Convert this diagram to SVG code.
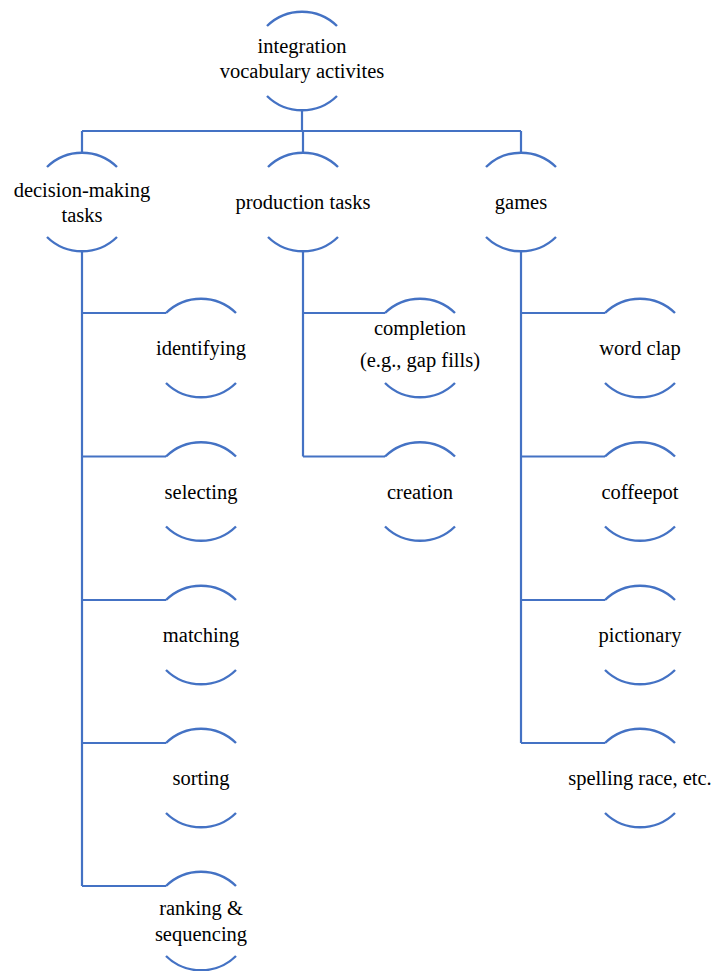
<svg xmlns="http://www.w3.org/2000/svg" xmlns:xlink="http://www.w3.org/1999/xlink" width="716" height="971" viewBox="0 0 716 971">
<defs>
<path id="arcs" d="M-35 -35 A50 50 0 0 1 35 -35 M-35 35 A50 50 0 0 0 35 35" fill="none" stroke="#4472C4" stroke-width="2.4"/>
</defs>
<rect width="716" height="971" fill="#ffffff"/>
<g id="connectors" fill="none" stroke="#4472C4" stroke-width="2.2">
<path d="M302 110 V131 M82 131 H521 M82 131 V152 M303 131 V152 M521 131 V152"/>
<path d="M82 252 V886 M82 313 H166 M82 456.5 H166 M82 600 H166 M82 743 H166 M82 886 H166"/>
<path d="M303 252 V456.5 M303 313 H385 M303 456.5 H385"/>
<path d="M521 252 V743 M521 313 H605 M521 456.5 H605 M521 600 H605 M521 743 H605"/>
</g>
<g id="n-root">
<use xlink:href="#arcs" x="302" y="61"/>
<text x="302" y="53" font-family="Times New Roman, Liberation Serif, serif" font-size="20.5" text-anchor="middle">integration</text>
<text x="302" y="78" font-family="Times New Roman, Liberation Serif, serif" font-size="20.5" text-anchor="middle">vocabulary activites</text>
</g>
<g id="n-decision">
<use xlink:href="#arcs" x="82" y="202"/>
<text x="82" y="197" font-family="Times New Roman, Liberation Serif, serif" font-size="20.5" text-anchor="middle">decision-making</text>
<text x="82" y="222" font-family="Times New Roman, Liberation Serif, serif" font-size="20.5" text-anchor="middle">tasks</text>
</g>
<g id="n-production">
<use xlink:href="#arcs" x="303" y="202"/>
<text x="303" y="209" font-family="Times New Roman, Liberation Serif, serif" font-size="20.5" text-anchor="middle">production tasks</text>
</g>
<g id="n-games">
<use xlink:href="#arcs" x="521" y="202"/>
<text x="521" y="209" font-family="Times New Roman, Liberation Serif, serif" font-size="20.5" text-anchor="middle">games</text>
</g>
<g id="n-identifying">
<use xlink:href="#arcs" x="201" y="348"/>
<text x="201" y="355" font-family="Times New Roman, Liberation Serif, serif" font-size="20.5" text-anchor="middle">identifying</text>
</g>
<g id="n-selecting">
<use xlink:href="#arcs" x="201" y="491.5"/>
<text x="201" y="498.5" font-family="Times New Roman, Liberation Serif, serif" font-size="20.5" text-anchor="middle">selecting</text>
</g>
<g id="n-matching">
<use xlink:href="#arcs" x="201" y="635"/>
<text x="201" y="642" font-family="Times New Roman, Liberation Serif, serif" font-size="20.5" text-anchor="middle">matching</text>
</g>
<g id="n-sorting">
<use xlink:href="#arcs" x="201" y="778"/>
<text x="201" y="785" font-family="Times New Roman, Liberation Serif, serif" font-size="20.5" text-anchor="middle">sorting</text>
</g>
<g id="n-ranking">
<use xlink:href="#arcs" x="201" y="921"/>
<text x="201" y="915" font-family="Times New Roman, Liberation Serif, serif" font-size="20.5" text-anchor="middle">ranking &amp;</text>
<text x="201" y="941" font-family="Times New Roman, Liberation Serif, serif" font-size="20.5" text-anchor="middle">sequencing</text>
</g>
<g id="n-completion">
<use xlink:href="#arcs" x="420" y="348"/>
<text x="420" y="335" font-family="Times New Roman, Liberation Serif, serif" font-size="20.5" text-anchor="middle">completion</text>
<text x="420" y="367" font-family="Times New Roman, Liberation Serif, serif" font-size="20.5" text-anchor="middle">(e.g., gap fills)</text>
</g>
<g id="n-creation">
<use xlink:href="#arcs" x="420" y="491.5"/>
<text x="420" y="498.5" font-family="Times New Roman, Liberation Serif, serif" font-size="20.5" text-anchor="middle">creation</text>
</g>
<g id="n-wordclap">
<use xlink:href="#arcs" x="640" y="348"/>
<text x="640" y="355" font-family="Times New Roman, Liberation Serif, serif" font-size="20.5" text-anchor="middle">word clap</text>
</g>
<g id="n-coffeepot">
<use xlink:href="#arcs" x="640" y="491.5"/>
<text x="640" y="498.5" font-family="Times New Roman, Liberation Serif, serif" font-size="20.5" text-anchor="middle">coffeepot</text>
</g>
<g id="n-pictionary">
<use xlink:href="#arcs" x="640" y="635"/>
<text x="640" y="642" font-family="Times New Roman, Liberation Serif, serif" font-size="20.5" text-anchor="middle">pictionary</text>
</g>
<g id="n-spelling">
<use xlink:href="#arcs" x="640" y="778"/>
<text x="640" y="785" font-family="Times New Roman, Liberation Serif, serif" font-size="20.5" text-anchor="middle">spelling race, etc.</text>
</g>
</svg>
